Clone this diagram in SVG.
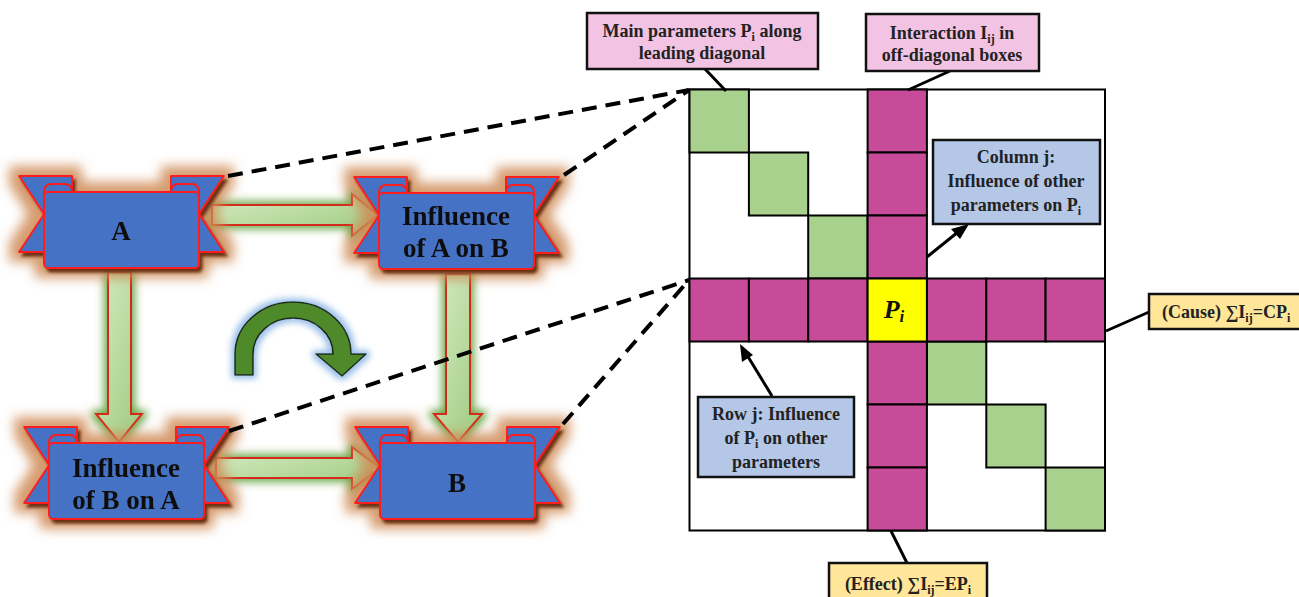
<svg xmlns="http://www.w3.org/2000/svg" width="1299" height="597" viewBox="0 0 1299 597">
<style>
.bn{fill:#4472c4;stroke:#ff1a1a;stroke-width:2;stroke-linejoin:round}
.bt{font-family:"Liberation Serif",serif;font-weight:bold;font-size:27px;fill:#111;text-anchor:middle}
.ga{fill:url(#gg);stroke:#d42a1e;stroke-width:2;stroke-linejoin:miter}
.cg{fill:#a9d18e;stroke:#000;stroke-width:2}
.cm{fill:#c84b9a;stroke:#000;stroke-width:2}
.cy{fill:#ffff00;stroke:#000;stroke-width:2}
.pk{fill:#f2c3e2;stroke:#111;stroke-width:2.5}
.bl{fill:#b4c7e7;stroke:#111;stroke-width:2.5}
.yl{fill:#ffe699;stroke:#111;stroke-width:2.5}
.ct{font-family:"Liberation Serif",serif;font-weight:bold;font-size:18px;fill:#222;text-anchor:middle}
.dash{stroke:#000;stroke-width:4;stroke-dasharray:15 9;fill:none}
.lead{stroke:#000;stroke-width:3;fill:none}
</style>
<defs>
<filter id="bglow" x="-35%" y="-60%" width="170%" height="220%">
<feMorphology in="SourceAlpha" operator="dilate" radius="9" result="d"/>
<feGaussianBlur in="d" stdDeviation="6" result="b"/>
<feFlood flood-color="#cf8a55" flood-opacity="0.85"/>
<feComposite in2="b" operator="in" result="glow"/>
<feOffset in="SourceAlpha" dx="3" dy="4" result="o"/>
<feGaussianBlur in="o" stdDeviation="1.5" result="ob"/>
<feFlood flood-color="#5a1a00" flood-opacity="0.9"/>
<feComposite in2="ob" operator="in" result="sh"/>
<feMerge><feMergeNode in="glow"/><feMergeNode in="sh"/><feMergeNode in="SourceGraphic"/></feMerge>
</filter>
<filter id="gglow" x="-40%" y="-40%" width="180%" height="180%">
<feMorphology in="SourceAlpha" operator="dilate" radius="3" result="d"/>
<feGaussianBlur in="d" stdDeviation="4" result="b"/>
<feFlood flood-color="#5e9e36" flood-opacity="0.9"/>
<feComposite in2="b" operator="in" result="glow"/>
<feMerge><feMergeNode in="glow"/><feMergeNode in="SourceGraphic"/></feMerge>
</filter>
<filter id="blglow" x="-30%" y="-30%" width="160%" height="160%">
<feMorphology in="SourceAlpha" operator="dilate" radius="3" result="d"/>
<feGaussianBlur in="d" stdDeviation="3" result="b"/>
<feFlood flood-color="#8fb8e6" flood-opacity="0.9"/>
<feComposite in2="b" operator="in" result="glow"/>
<feMerge><feMergeNode in="glow"/><feMergeNode in="SourceGraphic"/></feMerge>
</filter>
<linearGradient id="gg" x1="0" y1="0" x2="1" y2="1">
<stop offset="0" stop-color="#d6ecc3"/>
<stop offset="1" stop-color="#9cc97d"/>
</linearGradient>
<g id="banner">
<polygon class="bn" points="-25,-16 28,-16 28,60 -25,60 0,22"/>
<polygon class="bn" points="180,-16 127,-16 127,60 180,60 155,22"/>
<rect class="bn" x="0" y="-8" width="28" height="18" rx="7"/>
<rect class="bn" x="127" y="-8" width="28" height="18" rx="7"/>
<rect class="bn" x="0" y="0" width="155" height="76" rx="4"/>
</g>
</defs>

<g id="arrows-green" filter="url(#gglow)">
<path class="ga" d="M212 205 L352 205 L352 194 L378 215 L352 236 L352 225 L212 225 Z"/>
<path class="ga" d="M216 458 L352 458 L352 447 L380 468 L352 489 L352 478 L216 478 Z"/>
<path class="ga" d="M108 272 L108 414 L96 414 L119 442 L142 414 L131 414 L131 272 Z"/>
<path class="ga" d="M446 274 L446 414 L434 414 L458 442 L482 414 L470 414 L470 274 Z"/>
</g>

<g id="node-A" filter="url(#bglow)">
<use href="#banner" transform="translate(44,192)"/>
<text class="bt" x="121" y="240">A</text>
</g>
<g id="node-AonB" filter="url(#bglow)">
<use href="#banner" transform="translate(379,193)"/>
<text class="bt" x="456" y="225">Influence</text>
<text class="bt" x="456" y="257">of A on B</text>
</g>
<g id="node-BonA" filter="url(#bglow)">
<use href="#banner" transform="translate(49,443)"/>
<text class="bt" x="126" y="477">Influence</text>
<text class="bt" x="126" y="509">of B on A</text>
</g>
<g id="node-B" filter="url(#bglow)">
<use href="#banner" transform="translate(380,443)"/>
<text class="bt" x="457" y="492">B</text>
</g>

<g id="cycle-arrow" filter="url(#blglow)">
<path d="M235 375 L235 354 A58 52 0 0 1 351 354 L366 354 L342 376 L316 354 L333 354 A40 36 0 0 0 253 354 L253 375 Z" fill="#4f8a2c" stroke="#1d2a12" stroke-width="1.6" stroke-linejoin="round"/>
</g>

<g id="matrix">
<rect x="689.5" y="89.5" width="415.5" height="441" fill="#fff" stroke="#000" stroke-width="2"/>
<rect class="cg" x="689.5" y="89.5" width="59.4" height="63"/>
<rect class="cg" x="748.9" y="152.5" width="59.3" height="63"/>
<rect class="cg" x="808.2" y="215.5" width="59.4" height="63"/>
<rect class="cg" x="926.9" y="341.5" width="59.4" height="63"/>
<rect class="cg" x="986.3" y="404.5" width="59.3" height="63"/>
<rect class="cg" x="1045.6" y="467.5" width="59.4" height="63"/>
<rect class="cm" x="867.6" y="89.5" width="59.3" height="63"/>
<rect class="cm" x="867.6" y="152.5" width="59.3" height="63"/>
<rect class="cm" x="867.6" y="215.5" width="59.3" height="63"/>
<rect class="cm" x="867.6" y="341.5" width="59.3" height="63"/>
<rect class="cm" x="867.6" y="404.5" width="59.3" height="63"/>
<rect class="cm" x="867.6" y="467.5" width="59.3" height="63"/>
<rect class="cm" x="689.5" y="278.5" width="59.4" height="63"/>
<rect class="cm" x="748.9" y="278.5" width="59.3" height="63"/>
<rect class="cm" x="808.2" y="278.5" width="59.4" height="63"/>
<rect class="cm" x="926.9" y="278.5" width="59.4" height="63"/>
<rect class="cm" x="986.3" y="278.5" width="59.3" height="63"/>
<rect class="cm" x="1045.6" y="278.5" width="59.4" height="63"/>
<rect class="cy" x="867.6" y="278.5" width="59.3" height="63"/>
<text x="894" y="318" font-family="Liberation Serif,serif" font-style="italic" font-weight="bold" font-size="26" fill="#111" text-anchor="middle">P<tspan font-size="17" dy="4">i</tspan></text>
</g>

<g id="connectors">
<line class="dash" x1="228" y1="176" x2="689" y2="90"/>
<line class="dash" x1="564" y1="175" x2="689" y2="90"/>
<line class="dash" x1="229" y1="431" x2="689" y2="280"/>
<line class="dash" x1="563" y1="424" x2="689" y2="280"/>
<line class="lead" x1="705" y1="69" x2="726" y2="91"/>
<line class="lead" x1="950" y1="71" x2="908" y2="90"/>
<line class="lead" x1="1106" y1="331" x2="1149" y2="312"/>
<line class="lead" x1="891" y1="531" x2="907" y2="563"/>
<line class="lead" x1="927" y1="257" x2="958" y2="232"/>
<polygon points="969,224 951,229 960,239" fill="#000"/>
<line class="lead" x1="772" y1="396" x2="747" y2="355"/>
<polygon points="740,344 742,362 753,355" fill="#000"/>
</g>

<g id="callout-main">
<rect class="pk" x="587" y="13" width="231" height="56"/>
<text class="ct" x="702" y="37">Main parameters P<tspan font-size="12" dy="4">i</tspan><tspan dy="-4"> along</tspan></text>
<text class="ct" x="702" y="59">leading diagonal</text>
</g>
<g id="callout-interaction">
<rect class="pk" x="866" y="14" width="173" height="57"/>
<text class="ct" x="952" y="39">Interaction I<tspan font-size="12" dy="4">ij</tspan><tspan dy="-4"> in</tspan></text>
<text class="ct" x="952" y="61">off-diagonal boxes</text>
</g>
<g id="callout-column">
<rect class="bl" x="933" y="140" width="167" height="84"/>
<text class="ct" x="1016" y="163">Column j:</text>
<text class="ct" x="1016" y="187">Influence of other</text>
<text class="ct" x="1016" y="211">parameters on P<tspan font-size="12" dy="4">i</tspan></text>
</g>
<g id="callout-row">
<rect class="bl" x="698" y="397" width="156" height="80"/>
<text class="ct" x="776" y="420">Row j: Influence</text>
<text class="ct" x="776" y="444">of P<tspan font-size="12" dy="4">i</tspan><tspan dy="-4"> on other</tspan></text>
<text class="ct" x="776" y="468">parameters</text>
</g>
<g id="callout-cause">
<rect class="yl" x="1149" y="294" width="160" height="35"/>
<text class="ct" x="1162" y="318" style="text-anchor:start">(Cause) ∑I<tspan font-size="12" dy="4">ij</tspan><tspan dy="-4">=CP</tspan><tspan font-size="12" dy="4">i</tspan></text>
</g>
<g id="callout-effect">
<rect class="yl" x="829" y="563" width="158" height="45"/>
<text class="ct" x="908" y="590">(Effect) ∑I<tspan font-size="12" dy="4">ij</tspan><tspan dy="-4">=EP</tspan><tspan font-size="12" dy="4">i</tspan></text>
</g>
</svg>
